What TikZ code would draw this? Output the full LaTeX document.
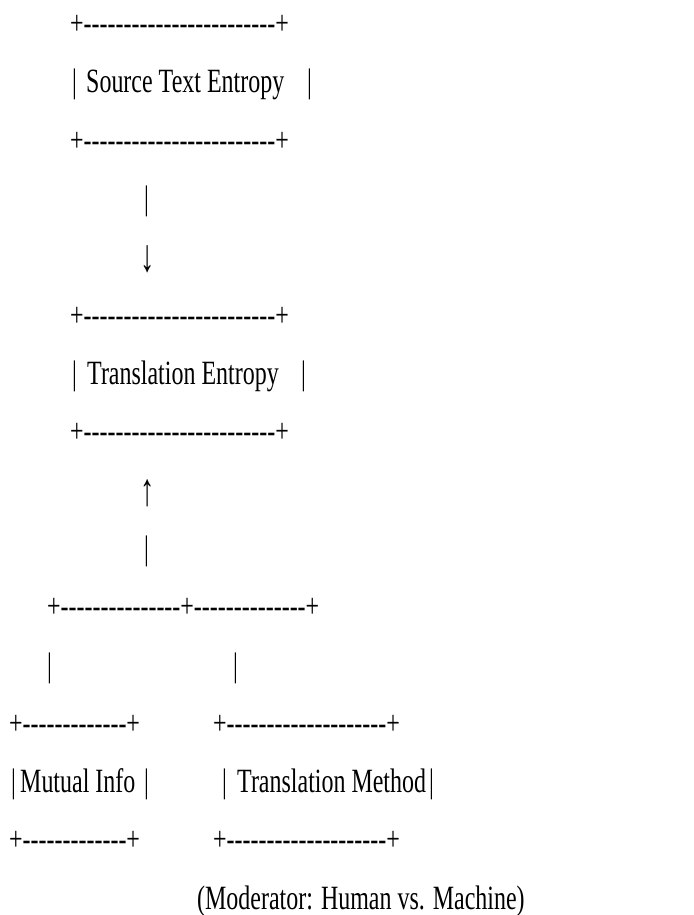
\documentclass[tikz,border=0pt]{standalone}
\usepackage{fontspec}
\newfontfamily\asciifont{Liberation Serif}[FakeStretch=0.705]
\newfontfamily\arrowfont{Liberation Serif}[FakeStretch=0.62]
\usepackage{tikz}
\tikzset{asc/.style={anchor=base west, inner sep=0pt, font=\asciifont\fontsize{34}{34}\selectfont},
    arr/.style={anchor=base, inner sep=0pt, font=\arrowfont\fontsize{46}{46}\selectfont}}
% one text row of the sketch, baseline measured from the top
\newcommand{\row}[1]{93+(#1-2)*58.3}
\newcommand{\dashes}[1]{\foreach \k in {1,...,#1}{\mbox{-}}}
\newcommand{\edge}[1]{+\dashes{#1}+}

\begin{document}
\begin{tikzpicture}[x=1pt, y=-1pt]
        \useasboundingbox (0,0) rectangle (693,915);
        % Source box
        \node [asc] (srctop) at (70,{\row{1}}) {\edge{24}};
        \node [asc] (srcl) at (72,{\row{2}}) {|};
        \node [asc] (src) at (86,{\row{2}}) {Source Text Entropy};
        \node [asc] (srcr) at (307,{\row{2}}) {|};
        \node [asc] (srcbot) at (70,{\row{3}}) {\edge{24}};
        % down link
        \node [asc] (downbar) at (144,{\row{4}}) {|};
        \node [arr] (down) at (148,{\row{5}+4}) {↓};
        % Translation box
        \node [asc] (tgttop) at (70,{\row{6}}) {\edge{24}};
        \node [asc] (tgtl) at (72,{\row{7}}) {|};
        \node [asc] (tgt) at (87,{\row{7}}) {Translation Entropy};
        \node [asc] (tgtr) at (301,{\row{7}}) {|};
        \node [asc] (tgtbot) at (70,{\row{8}}) {\edge{24}};
        % up link
        \node [arr] (up) at (148,{\row{9}+4}) {↑};
        \node [asc] (upbar) at (144,{\row{10}}) {|};
        % fork
        \node [asc] (fork) at (47,{\row{11}}) {+\dashes{15}+\dashes{14}+};
        \node [asc] (forkl) at (47,{\row{12}}) {|};
        \node [asc] (forkr) at (233,{\row{12}}) {|};
        % Mutual info box
        \node [asc] (mitop) at (9,{\row{13}}) {\edge{13}};
        \node [asc] (mil) at (11,{\row{14}}) {|};
        \node [asc] (mi) at (20,{\row{14}}) {Mutual Info};
        \node [asc] (mir) at (144,{\row{14}}) {|};
        \node [asc] (mibot) at (9,{\row{15}}) {\edge{13}};
        % Method box
        \node [asc] (mtop) at (213,{\row{13}}) {\edge{20}};
        \node [asc] (ml) at (222,{\row{14}}) {|};
        \node [asc] (method) at (237,{\row{14}}) {Translation Method};
        \node [asc] (mr) at (429,{\row{14}}) {|};
        \node [asc] (mbot) at (213,{\row{15}}) {\edge{20}};
        \node [asc] (moderator) at (197,{\row{16}}) {(Moderator: Human vs. Machine)};
\end{tikzpicture}
\end{document}
